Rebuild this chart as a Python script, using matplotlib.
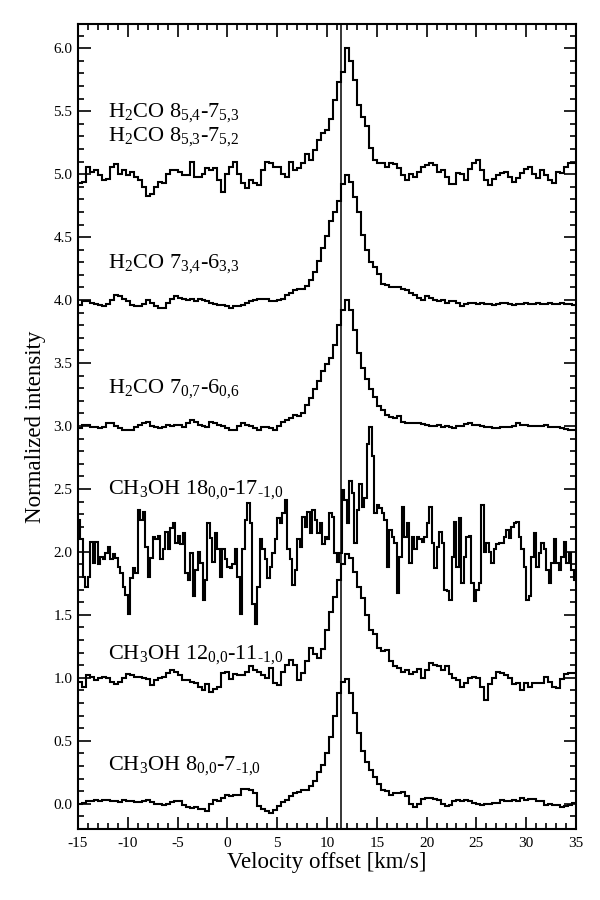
import numpy as np
import matplotlib
matplotlib.use("Agg")
import matplotlib.pyplot as plt

plt.rcParams['font.family'] = ['Liberation Serif', 'DejaVu Serif']
plt.rcParams['mathtext.fontset'] = 'custom'
plt.rcParams['mathtext.rm'] = 'Liberation Serif'
plt.rcParams['mathtext.it'] = 'Liberation Serif:italic'
plt.rcParams['axes.unicode_minus'] = False

# ---------------- data ----------------
v_start = -15.0
chan_h2co = 0.4      # km/s, channel width of the coarse spectra
chan_ch3oh18 = 0.25  # km/s, channel width of the CH3OH 18 spectrum
v_sys = 11.4

offsets = [5, 4, 3, 2, 1, 0]

h2co_8 = [
    -0.07, -0.06, 0.06, 0.02, 0.03, -0.01, -0.05, -0.04, 0.06, 0.08,
    0.00, 0.03, -0.01, 0.02, -0.02, -0.05, -0.10, -0.17, -0.16, -0.10,
    -0.06, -0.07, 0.00, 0.03, 0.03, 0.02, -0.01, -0.01, 0.10, -0.02,
    -0.02, 0.00, 0.05, 0.03, 0.05, -0.05, -0.14, 0.00, 0.06, 0.10,
    0.00, -0.07, -0.11, -0.05, -0.07, -0.09, 0.03, 0.10, 0.085, 0.06,
    0.06, 0.00, -0.02, 0.10, 0.03, 0.05, 0.085, 0.16, 0.11, 0.19,
    0.27, 0.33, 0.35, 0.44, 0.59, 0.73, 0.81, 1.00, 0.90, 0.75,
    0.55, 0.45, 0.38, 0.21, 0.11, 0.085, 0.085, 0.06, 0.09, 0.08,
    0.05, -0.01, -0.05, 0.00, -0.02, 0.02, 0.06, 0.075, 0.085, 0.075,
    0.02, 0.03, -0.02, -0.08, -0.08, 0.01, 0.00, -0.05, 0.04, 0.085,
    0.115, 0.03, -0.05, -0.09, -0.04, -0.01, 0.01, 0.02, -0.02, -0.06,
    -0.03, 0.01, 0.04, 0.06, 0.00, -0.03, 0.03, -0.01, -0.05, -0.07,
    0.02, 0.01, 0.06, 0.09, 0.09]

h2co_734 = [
    -0.04, -0.01, -0.01, -0.02, -0.03, -0.04, -0.05, -0.03, 0.00, 0.04,
    0.03, 0.01, -0.01, -0.04, -0.05, -0.05, -0.03, 0.00, -0.02, -0.05,
    -0.06, -0.06, -0.02, 0.01, 0.03, 0.02, 0.01, 0.00, 0.01, -0.01,
    0.01, 0.00, -0.01, -0.02, -0.03, -0.04, -0.04, -0.05, -0.06, -0.05,
    -0.05, -0.04, -0.02, -0.01, 0.00, 0.01, 0.005, 0.005, -0.01, -0.005,
    0.00, 0.01, 0.04, 0.06, 0.08, 0.085,
    0.09, 0.11, 0.16, 0.22, 0.31, 0.41, 0.51,
    0.63, 0.70, 0.79, 0.92, 0.99, 0.94, 0.82, 0.70, 0.52, 0.40, 0.30, 0.26,
    0.21, 0.13, 0.12, 0.105, 0.105, 0.10, 0.09, 0.08, 0.06, 0.04, 0.02,
    0.00, 0.03, 0.02, 0.00, -0.01, 0.00, -0.02, -0.01, -0.01, -0.02,
    -0.05, -0.03, -0.02, -0.02, -0.03, -0.02, -0.03, -0.03, -0.04, -0.03,
    -0.02, -0.02, -0.03, -0.04, -0.03, -0.03, -0.02, -0.03, -0.03, -0.02,
    -0.03, -0.03, -0.02, -0.03, -0.03, -0.02, -0.03, -0.03, -0.04]

h2co_707 = [
    -0.02, 0.01, 0.005, -0.005, -0.01, -0.02, -0.01, 0.02, 0.02, 0.00,
    -0.02, -0.03, -0.03, -0.03, -0.01, 0.01, 0.02, 0.03, 0.00, -0.01,
    -0.02, -0.01, 0.01, 0.00, 0.005, 0.01, -0.01, 0.02, 0.05, 0.03,
    0.01, 0.00, -0.005, 0.035, 0.02, 0.01, 0.00, -0.02, -0.03, -0.03,
    0.00, 0.02, 0.01, 0.00, -0.02, -0.03, -0.01, -0.01, -0.02, -0.03,
    0.00, 0.035, 0.05, 0.06, 0.09, 0.08,
    0.10, 0.17, 0.22, 0.29, 0.36, 0.44, 0.49,
    0.54, 0.64, 0.80, 0.92, 1.00, 0.92, 0.76, 0.58, 0.46, 0.37,
    0.29, 0.23, 0.16, 0.13, 0.087, 0.075, 0.06, 0.08, 0.035, 0.02,
    0.02, 0.025, 0.02, 0.015, 0.01, 0.00, 0.00, 0.01, -0.005, 0.00,
    -0.01, -0.02, 0.00, 0.00, 0.015, 0.02, 0.01, 0.01, 0.00, -0.01,
    -0.01, -0.02, -0.02, -0.01, -0.01, -0.01, 0.00, 0.02, 0.01, 0.01,
    0.00, 0.00, 0.00, 0.00, 0.01, -0.01, -0.01, -0.01, -0.015, -0.025,
    -0.03, -0.03]

ch3oh_18 = [
    0.25, 0.10, -0.20, -0.28, -0.20, 0.08, -0.09, 0.08, -0.10, -0.04,
    -0.06, -0.01, 0.04, -0.06, -0.02, -0.05, -0.12, -0.17, -0.28, -0.34,
    -0.49, -0.21, -0.13, -0.17, 0.33, 0.25, 0.32, 0.04, -0.20, -0.05,
    0.12, 0.10, 0.13, -0.06, 0.02, 0.16, 0.02, 0.19, 0.23, 0.07,
    0.13, 0.06, 0.15, -0.17, -0.22, -0.01, -0.35, -0.14, 0.00, -0.09,
    -0.38, -0.22, 0.23, 0.11, -0.08, 0.15, 0.02, -0.20, 0.02, -0.06,
    -0.12, -0.13, -0.10, 0.02, -0.20, -0.49, 0.02, 0.25, 0.39, 0.23,
    -0.41, -0.57, -0.28, 0.10, 0.02, -0.06, -0.21, -0.12, -0.01, 0.10,
    0.27, 0.23, 0.31, 0.41, 0.02, -0.06, -0.26, -0.14, 0.10, 0.04,
    0.28, 0.20, 0.32, 0.15, 0.33, 0.25, 0.15, 0.23, 0.06, 0.12,
    0.10, 0.31, 0.28, -0.01, -0.08, -0.01, 0.49, 0.41, 0.23, 0.56,
    0.47, 0.07, 0.33, 0.54, 0.36, 0.43, 0.86, 0.99, 0.76, 0.31,
    0.37, 0.35, 0.31, 0.25, -0.12, 0.17, 0.12, 0.07, -0.33, -0.04,
    0.36, 0.12, 0.23, -0.09, 0.12, 0.02, 0.12, 0.10, 0.08, 0.12,
    0.23, 0.36, 0.07, -0.13, 0.04, 0.16, 0.07, -0.30, -0.31, -0.38,
    -0.04, 0.24, -0.12, 0.27, -0.25, -0.04, 0.12, 0.13, -0.25, -0.39,
    -0.30, -0.25, 0.37, 0.00, 0.07, 0.00, -0.09, 0.02, 0.06, 0.07,
    0.07, 0.12, 0.17, 0.11, 0.20, 0.23, 0.24, 0.12, 0.02, -0.12,
    -0.38, -0.35, -0.04, 0.15, -0.12, -0.01, 0.07, 0.02, -0.14, -0.25,
    -0.09, 0.10, -0.09, -0.14, -0.04, 0.08, -0.09, -0.01, -0.14, -0.22]

ch3oh_12 = [
    -0.03, -0.07, 0.02, 0.005, -0.02, 0.00, 0.01, 0.00, -0.03, -0.05,
    -0.03, 0.00, 0.03, 0.02, 0.01, 0.005, 0.00, -0.01, -0.055, -0.02,
    0.00, 0.01, 0.04, 0.06, 0.05, 0.02, -0.02, -0.02, -0.03, -0.04,
    -0.07, -0.095, -0.05, -0.11, -0.09, -0.07, 0.04, 0.05, -0.01, 0.03,
    0.02, 0.02, 0.05, 0.09, 0.06, 0.05, 0.02, 0.00, 0.08, -0.04,
    -0.055, 0.05, 0.10, 0.14, 0.10, -0.02,
    0.04, 0.13, 0.24, 0.19, 0.16, 0.23, 0.38, 0.52, 0.64, 0.78,
    0.90, 0.98, 0.95, 0.84, 0.72, 0.63, 0.50, 0.38, 0.35, 0.24,
    0.21, 0.22, 0.13, 0.09, 0.08, 0.05, 0.06, 0.03, 0.05, 0.07,
    0.00, 0.06, 0.12, 0.10, 0.09, 0.06, 0.09, 0.03, 0.00, -0.02,
    -0.07, -0.04, 0.00, 0.01, 0.00, -0.07, -0.18, -0.05, 0.00, 0.05,
    0.04, 0.02, 0.00, -0.05, -0.04, -0.10, -0.04, -0.07, -0.04, -0.04,
    -0.04, 0.01, -0.03, -0.07, -0.08, -0.01, 0.03, 0.04, 0.04]

ch3oh_8 = [
    0.00, 0.005, 0.02, 0.02, 0.03, 0.02, 0.03, 0.03, 0.02, 0.02,
    0.01, 0.03, 0.02, 0.02, 0.01, 0.015, 0.02, 0.03, 0.01, 0.00,
    0.00, -0.01, -0.005, 0.01, 0.02, 0.02, -0.01, -0.03, -0.035, -0.03,
    -0.04, -0.04, -0.06, 0.00, 0.03, 0.02, 0.045, 0.07, 0.06, 0.07,
    0.07, 0.12, 0.12, 0.11, 0.085, -0.02, -0.04, -0.06, -0.07, -0.05,
    -0.02, 0.01, 0.03, 0.06, 0.085, 0.09,
    0.11, 0.11, 0.14, 0.18, 0.25, 0.31, 0.40, 0.53, 0.70, 0.88,
    0.97, 0.99, 0.88, 0.72, 0.56, 0.42, 0.33, 0.27, 0.21, 0.16,
    0.11, 0.10, 0.07, 0.085, 0.085, 0.09, 0.06, 0.00, -0.03, 0.00,
    0.04, 0.045, 0.045, 0.04, 0.03, 0.00, -0.02, -0.01, 0.025, 0.03,
    0.025, 0.03, 0.02, 0.005, 0.00, -0.01, 0.00, 0.00, 0.005, 0.005,
    0.03, 0.02, 0.02, 0.03, 0.02, 0.045, 0.03, 0.035, 0.04, 0.02,
    0.02, -0.01, 0.00, -0.01, -0.01, -0.03, -0.02, -0.01, 0.005]

spectra = [h2co_8, h2co_734, h2co_707, ch3oh_18, ch3oh_12, ch3oh_8]
widths = [chan_h2co, chan_h2co, chan_h2co, chan_ch3oh18, chan_h2co, chan_h2co]

labels = [
    [r'H$_2$CO 8$_{\text{5,4}}$-7$_{\text{5,3}}$',
     r'H$_2$CO 8$_{\text{5,3}}$-7$_{\text{5,2}}$'],
    [r'H$_2$CO 7$_{\text{3,4}}$-6$_{\text{3,3}}$'],
    [r'H$_2$CO 7$_{\text{0,7}}$-6$_{\text{0,6}}$'],
    [r'CH$_3$OH 18$_{\text{0,0}}$-17$_{\text{-1,0}}$'],
    [r'CH$_3$OH 12$_{\text{0,0}}$-11$_{\text{-1,0}}$'],
    [r'CH$_3$OH 8$_{\text{0,0}}$-7$_{\text{-1,0}}$'],
]
label_y = [[5.455, 5.27], [4.256], [3.264], [2.466], [1.156], [0.27]]
label_x = -12.0

# ---------------- plot ----------------
fig = plt.figure(figsize=(6, 9), dpi=100)
ax = fig.add_axes([0.13, 0.079, 0.83, 0.894])

for vals, w, off in zip(spectra, widths, offsets):
    vals = np.asarray(vals)
    edges = v_start + w * np.arange(len(vals) + 1)
    ax.stairs(vals + off, edges, baseline=None, color='black', lw=1.5)

ax.axvline(v_sys, color='black', lw=1.1)

for labs, ys in zip(labels, label_y):
    for lab, y in zip(labs, ys):
        ax.text(label_x, y, lab, fontsize=16, ha='left', va='baseline')

ax.set_xlim(-15, 35)
ax.set_ylim(-0.2, 6.19)
ax.set_xticks(np.arange(-15, 36, 5))
ax.set_xticks(np.arange(-15, 36, 1), minor=True)
ax.set_yticks(np.arange(0, 6.01, 0.5))
ax.set_yticks(np.arange(-0.1, 6.2, 0.1), minor=True)
ax.yaxis.set_major_formatter(matplotlib.ticker.FormatStrFormatter('%.1f'))

ax.tick_params(which='both', direction='in', top=True, right=True,
               width=1.2, colors='black', labelsize=11)
ax.tick_params(which='major', length=9)
ax.tick_params(which='minor', length=4.5)
ax.tick_params(axis='x', which='major', pad=6)
ax.tick_params(axis='y', which='major', pad=4)
for s in ax.spines.values():
    s.set_linewidth(1.5)

ax.set_xlabel('Velocity offset [km/s]', fontsize=16.5, labelpad=1)
ax.set_ylabel('Normalized intensity', fontsize=16.5, labelpad=5)

fig.savefig('out.png', dpi=100, facecolor='white')
